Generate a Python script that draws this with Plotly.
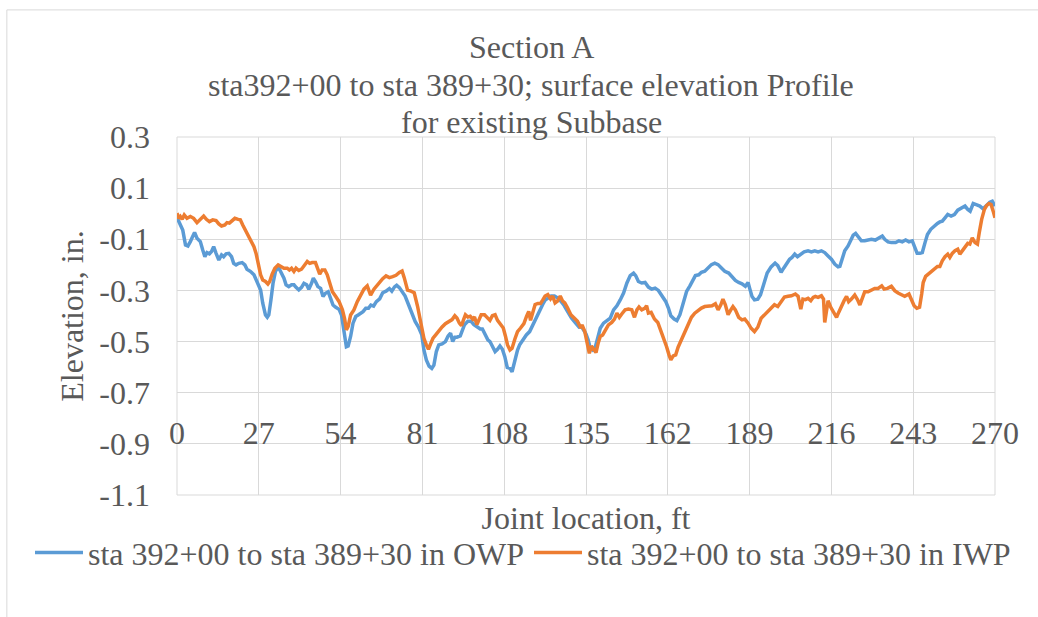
import plotly.graph_objects as go

TITLE_LINES = ["Section A",
               "sta392+00 to sta 389+30; surface elevation Profile",
               "for existing Subbase"]
X_TITLE = "Joint location, ft"
Y_TITLE = "Elevation, in."
NAME_OWP = "sta 392+00 to sta 389+30 in OWP"
NAME_IWP = "sta 392+00 to sta 389+30 in IWP"

X_TICKS = [0, 27, 54, 81, 108, 135, 162, 189, 216, 243, 270]
Y_TICKS = [0.3, 0.1, -0.1, -0.3, -0.5, -0.7, -0.9, -1.1]
Y_TICK_TEXT = ["0.3", "0.1", "-0.1", "-0.3", "-0.5", "-0.7", "-0.9", "-1.1"]

OWP_X = [
    0, 1.1, 1.9, 2.8, 3.6, 4.4, 5.2, 5.8, 6.6, 7.7,
    8.5, 9.2, 9.9, 10.7, 11.4, 12.1, 12.9, 13.8, 14.7, 15.4,
    16.2, 17.1, 18.0, 18.7, 19.5, 20.4, 21.5, 22.4, 23.1, 24.3,
    25.4, 26.5, 27.6, 28.3, 29.2, 29.8, 30.3, 31.0, 31.7, 32.5,
    33.4, 34.2, 35.3, 36.0, 36.9, 37.8, 38.6, 39.3, 40.2, 41.1,
    41.9, 42.8, 43.5, 44.4, 45.0, 45.7, 46.5, 47.4, 48.2, 49.0,
    49.9, 50.7, 51.5, 52.4, 53.5, 54.3, 55.1, 55.9, 56.5, 57.3,
    58.1, 59.0, 59.8, 60.6, 61.4, 62.3, 63.2, 64.0, 64.9, 65.8,
    66.9, 67.9, 69.0, 70.1, 70.9, 71.8, 72.5, 73.4, 74.3, 75.3,
    76.4, 77.5, 78.6, 79.7, 80.8, 81.5, 82.3, 83.2, 84.1, 84.8,
    85.6, 86.4, 87.5, 88.6, 89.5, 90.3, 91.0, 91.7, 92.4, 93.5,
    94.3, 94.9, 96.0, 97.1, 98.0, 99.0, 100.1, 100.8, 101.7, 102.6,
    103.3, 104.1, 105.0, 105.8, 106.6, 107.4, 108.2, 109.0, 109.9, 110.6,
    111.5, 112.4, 113.1, 114.2, 115.3, 116.4, 117.5, 118.6, 119.7, 120.7,
    121.5, 122.4, 123.5, 124.6, 125.6, 126.7, 127.8, 128.9, 130.2, 131.6,
    132.7, 133.5, 134.2, 135.0, 135.7, 136.4, 137.2, 138.1, 139.0, 139.7,
    140.8, 141.9, 143.0, 144.1, 145.2, 146.3, 147.4, 148.5, 149.6, 150.7,
    151.4, 152.3, 153.4, 154.5, 155.6, 156.7, 157.8, 158.9, 160.0, 161.3,
    162.2, 163.0, 164.1, 165.0, 166.0, 167.1, 168.2, 169.3, 170.4, 171.1,
    172.2, 173.1, 174.2, 175.3, 176.4, 177.5, 178.6, 179.7, 180.8, 182.1,
    183.2, 184.3, 185.4, 186.5, 187.6, 188.5, 189.1, 189.8, 190.6, 191.7,
    192.6, 193.7, 194.8, 196.1, 197.4, 198.3, 199.4, 200.3, 201.5, 202.2,
    203.0, 203.9, 204.8, 205.9, 207.0, 208.3, 209.4, 210.5, 211.6, 212.7,
    213.8, 214.9, 216.0, 217.1, 218.2, 218.8, 219.5, 220.4, 221.5, 222.4,
    223.2, 224.0, 224.8, 225.9, 227.0, 228.1, 229.2, 230.5, 231.6, 232.8,
    233.6, 234.7, 235.8, 237.2, 238.3, 239.4, 240.5, 241.6, 242.7, 243.6,
    244.3, 245.2, 246.0, 246.9, 247.7, 248.8, 249.9, 251.0, 251.8, 252.6,
    253.5, 254.4, 255.5, 256.6, 257.7, 258.8, 260.1, 261.0, 261.8, 262.8,
    263.9, 265.0, 266.1, 267.2, 268.3, 269.1, 270.0,
]
OWP_Y = [
    -0.015, -0.044, -0.064, -0.122, -0.126, -0.109, -0.083, -0.073, -0.096, -0.109,
    -0.142, -0.168, -0.152, -0.157, -0.148, -0.129, -0.155, -0.181, -0.161, -0.168,
    -0.157, -0.155, -0.168, -0.194, -0.200, -0.194, -0.191, -0.200, -0.217, -0.226,
    -0.239, -0.265, -0.298, -0.350, -0.396, -0.405, -0.396, -0.337, -0.272, -0.226,
    -0.207, -0.226, -0.252, -0.278, -0.285, -0.278, -0.278, -0.288, -0.298, -0.288,
    -0.272, -0.278, -0.295, -0.272, -0.252, -0.265, -0.285, -0.292, -0.324, -0.311,
    -0.305, -0.331, -0.357, -0.366, -0.374, -0.396, -0.461, -0.520, -0.517, -0.480,
    -0.428, -0.402, -0.396, -0.389, -0.383, -0.370, -0.370, -0.357, -0.361, -0.344,
    -0.333, -0.309, -0.303, -0.293, -0.303, -0.286, -0.280, -0.289, -0.303, -0.322,
    -0.355, -0.388, -0.421, -0.443, -0.474, -0.533, -0.572, -0.596, -0.605, -0.592,
    -0.539, -0.513, -0.509, -0.500, -0.478, -0.467, -0.500, -0.483, -0.483, -0.478,
    -0.454, -0.434, -0.421, -0.421, -0.434, -0.443, -0.451, -0.451, -0.470, -0.493,
    -0.500, -0.520, -0.539, -0.530, -0.517, -0.530, -0.559, -0.601, -0.605, -0.618,
    -0.572, -0.533, -0.513, -0.493, -0.474, -0.461, -0.434, -0.401, -0.375, -0.355,
    -0.338, -0.329, -0.322, -0.322, -0.329, -0.342, -0.359, -0.382, -0.408, -0.428,
    -0.443, -0.441, -0.454, -0.470, -0.493, -0.526, -0.533, -0.520, -0.480, -0.448,
    -0.428, -0.418, -0.408, -0.376, -0.360, -0.337, -0.310, -0.271, -0.242, -0.232,
    -0.242, -0.265, -0.271, -0.269, -0.287, -0.295, -0.291, -0.300, -0.321, -0.343,
    -0.369, -0.399, -0.412, -0.418, -0.395, -0.343, -0.304, -0.282, -0.261, -0.242,
    -0.239, -0.229, -0.225, -0.212, -0.199, -0.193, -0.199, -0.212, -0.225, -0.232,
    -0.245, -0.261, -0.269, -0.274, -0.284, -0.269, -0.295, -0.324, -0.337, -0.334,
    -0.317, -0.271, -0.232, -0.208, -0.193, -0.203, -0.229, -0.212, -0.188, -0.178,
    -0.171, -0.158, -0.168, -0.158, -0.149, -0.145, -0.149, -0.145, -0.149, -0.145,
    -0.152, -0.165, -0.178, -0.197, -0.208, -0.206, -0.178, -0.145, -0.126, -0.106,
    -0.084, -0.077, -0.090, -0.106, -0.106, -0.103, -0.100, -0.103, -0.097, -0.087,
    -0.100, -0.110, -0.113, -0.113, -0.106, -0.110, -0.103, -0.110, -0.106, -0.139,
    -0.155, -0.155, -0.152, -0.113, -0.081, -0.061, -0.048, -0.038, -0.032, -0.029,
    -0.016, -0.003, -0.009, -0.003, 0.014, 0.023, 0.030, 0.017, 0.010, 0.040,
    0.036, 0.030, 0.019, 0.032, 0.045, 0.049, 0.030,
]

IWP_X = [
    0, 0.6, 1.1, 1.7, 2.4, 3.3, 4.4, 5.5, 6.6, 7.7,
    8.8, 9.7, 10.7, 11.8, 12.9, 13.8, 14.7, 15.8, 16.5, 17.3,
    18.2, 19.1, 20.2, 20.9, 21.7, 22.6, 23.5, 24.5, 25.4, 26.1,
    26.8, 27.6, 28.3, 29.2, 30.0, 30.6, 31.4, 32.3, 33.4, 34.2,
    35.3, 36.4, 37.1, 37.8, 38.6, 39.3, 40.2, 41.1, 41.9, 43.0,
    43.8, 44.6, 45.7, 46.5, 47.1, 47.9, 48.8, 49.6, 50.4, 51.3,
    52.4, 53.5, 54.6, 55.3, 55.9, 56.5, 57.3, 58.4, 59.5, 60.6,
    61.7, 62.8, 63.9, 65.0, 66.1, 66.9, 67.9, 69.0, 70.1, 71.2,
    72.3, 73.4, 74.3, 75.0, 76.1, 77.2, 78.3, 79.4, 80.5, 81.5,
    82.3, 83.0, 83.7, 84.5, 85.4, 86.4, 87.5, 88.6, 89.7, 90.8,
    91.7, 92.4, 93.2, 93.9, 94.6, 95.2, 96.0, 96.8, 97.6, 98.2,
    99.0, 99.7, 100.4, 101.5, 102.6, 103.3, 104.1, 105.0, 105.8, 106.9,
    107.7, 108.4, 109.1, 109.9, 110.6, 111.5, 112.4, 113.4, 114.5, 115.4,
    116.1, 116.7, 117.5, 118.2, 119.1, 120.0, 120.7, 121.5, 122.4, 123.3,
    124.0, 124.8, 125.6, 126.5, 127.3, 128.0, 128.9, 130.0, 131.1, 132.2,
    133.3, 133.7, 134.6, 135.3, 136.1, 136.8, 137.5, 138.3, 139.0, 139.7,
    140.5, 141.4, 142.4, 143.5, 144.4, 145.2, 146.0, 146.8, 147.9, 149.0,
    150.1, 151.0, 151.8, 152.5, 153.4, 154.5, 155.0, 155.6, 156.5, 157.6,
    158.7, 159.8, 160.9, 161.6, 162.4, 163.0, 163.8, 164.6, 165.4, 166.5,
    167.6, 168.7, 169.8, 170.9, 172.0, 173.1, 174.2, 175.5, 176.6, 177.7,
    178.6, 179.5, 180.2, 181.0, 181.9, 182.8, 183.5, 184.3, 185.4, 186.5,
    187.4, 188.5, 189.5, 190.6, 191.7, 192.8, 193.9, 195.0, 196.1, 197.2,
    198.3, 199.4, 200.5, 201.7, 202.8, 204.1, 205.0, 205.9, 206.6, 207.4,
    208.3, 209.2, 210.0, 210.7, 211.6, 212.7, 213.4, 213.8, 214.4, 214.9,
    215.8, 216.9, 217.7, 218.4, 219.3, 220.2, 221.0, 221.7, 222.6, 223.7,
    224.6, 225.4, 226.1, 227.0, 228.1, 229.2, 230.3, 231.4, 232.6, 233.4,
    234.5, 235.8, 236.9, 238.0, 239.2, 240.2, 241.6, 242.4, 243.3, 244.2,
    245.1, 245.8, 246.3, 247.1, 248.0, 249.1, 250.2, 251.0, 251.8, 252.6,
    253.5, 254.4, 255.1, 255.9, 256.8, 257.7, 258.4, 259.2, 260.1, 261.0,
    261.7, 262.5, 263.4, 264.2, 264.8, 265.6, 266.5, 267.2, 268.0, 268.7,
    269.4, 270.0,
]
IWP_Y = [
    0.002, -0.018, -0.011, -0.022, -0.005, -0.018, -0.011, -0.018, -0.035, -0.022,
    -0.009, -0.022, -0.031, -0.024, -0.027, -0.040, -0.048, -0.044, -0.035, -0.037,
    -0.027, -0.018, -0.022, -0.024, -0.044, -0.064, -0.087, -0.109, -0.129, -0.155,
    -0.194, -0.239, -0.259, -0.265, -0.275, -0.265, -0.236, -0.213, -0.200, -0.204,
    -0.213, -0.213, -0.220, -0.213, -0.226, -0.213, -0.222, -0.217, -0.204, -0.187,
    -0.194, -0.191, -0.191, -0.213, -0.236, -0.220, -0.220, -0.239, -0.272, -0.305,
    -0.324, -0.344, -0.376, -0.409, -0.454, -0.441, -0.396, -0.376, -0.344, -0.318,
    -0.295, -0.282, -0.318, -0.295, -0.278, -0.270, -0.254, -0.243, -0.250, -0.246,
    -0.241, -0.230, -0.224, -0.250, -0.299, -0.303, -0.309, -0.362, -0.428, -0.487,
    -0.513, -0.530, -0.509, -0.487, -0.474, -0.457, -0.443, -0.430, -0.421, -0.414,
    -0.399, -0.408, -0.428, -0.438, -0.414, -0.395, -0.404, -0.401, -0.412, -0.404,
    -0.434, -0.414, -0.395, -0.395, -0.408, -0.417, -0.399, -0.395, -0.417, -0.438,
    -0.447, -0.478, -0.513, -0.533, -0.526, -0.491, -0.461, -0.447, -0.430, -0.401,
    -0.382, -0.417, -0.382, -0.355, -0.351, -0.351, -0.338, -0.322, -0.316, -0.333,
    -0.322, -0.349, -0.342, -0.322, -0.342, -0.349, -0.368, -0.395, -0.408, -0.421,
    -0.447, -0.435, -0.461, -0.507, -0.546, -0.517, -0.530, -0.543, -0.507, -0.480,
    -0.474, -0.452, -0.435, -0.425, -0.412, -0.389, -0.405, -0.392, -0.376, -0.373,
    -0.376, -0.405, -0.376, -0.365, -0.376, -0.369, -0.360, -0.389, -0.386, -0.412,
    -0.425, -0.461, -0.493, -0.520, -0.552, -0.572, -0.556, -0.552, -0.522, -0.493,
    -0.457, -0.428, -0.405, -0.389, -0.378, -0.369, -0.363, -0.360, -0.360, -0.352,
    -0.376, -0.356, -0.334, -0.356, -0.395, -0.376, -0.363, -0.376, -0.405, -0.415,
    -0.412, -0.428, -0.448, -0.461, -0.444, -0.409, -0.395, -0.382, -0.369, -0.356,
    -0.363, -0.347, -0.326, -0.323, -0.321, -0.314, -0.323, -0.373, -0.334, -0.336,
    -0.331, -0.340, -0.327, -0.323, -0.327, -0.321, -0.334, -0.425, -0.386, -0.340,
    -0.366, -0.392, -0.405, -0.386, -0.360, -0.340, -0.323, -0.344, -0.334, -0.318,
    -0.336, -0.357, -0.334, -0.305, -0.305, -0.297, -0.292, -0.292, -0.282, -0.295,
    -0.292, -0.284, -0.301, -0.310, -0.318, -0.323, -0.314, -0.334, -0.360, -0.370,
    -0.366, -0.314, -0.269, -0.245, -0.236, -0.227, -0.217, -0.206, -0.206, -0.184,
    -0.168, -0.158, -0.171, -0.155, -0.145, -0.139, -0.158, -0.145, -0.129, -0.116,
    -0.119, -0.094, -0.113, -0.119, -0.074, -0.022, 0.017, 0.032, 0.040, 0.036,
    0.010, -0.016,
]

FONT = "Liberation Serif, Times New Roman, serif"
TEXT = "#595959"
GRID = "#D9D9D9"
BLUE = "#5B9BD5"
ORANGE = "#ED7D31"

fig = go.Figure()
fig.add_trace(go.Scatter(x=OWP_X, y=OWP_Y, mode="lines", name=NAME_OWP,
                         line=dict(color=BLUE, width=3.5)))
fig.add_trace(go.Scatter(x=IWP_X, y=IWP_Y, mode="lines", name=NAME_IWP,
                         line=dict(color=ORANGE, width=3.5)))

title_y = [1.251, 1.145, 1.042]
annotations = []
for line, yy in zip(TITLE_LINES, title_y):
    annotations.append(dict(text=line, xref="paper", yref="paper", x=0.433, y=yy,
                            xanchor="center", yanchor="middle", showarrow=False,
                            font=dict(family=FONT, size=32, color=TEXT)))

fig.update_layout(
    width=1038, height=617,
    margin=dict(l=177, r=43, t=137, b=122),
    paper_bgcolor="white", plot_bgcolor="white",
    font=dict(family=FONT, size=32, color=TEXT),
    annotations=annotations,
    showlegend=True,
    legend=dict(orientation="h", x=-0.1797, y=-0.161, xanchor="left", yanchor="middle",
                font=dict(family=FONT, size=32, color=TEXT),
                itemwidth=48,
                entrywidth=436, entrywidthmode="pixels",
                bgcolor="rgba(0,0,0,0)"),
    shapes=[
        dict(type="rect", xref="paper", yref="paper", x0=0, x1=1, y0=0, y1=1,
             line=dict(color=GRID, width=1), layer="below"),
        dict(type="rect", xref="paper", yref="paper", x0=-0.208, x1=1.5, y0=-0.5, y1=1.355,
             line=dict(color=GRID, width=1), layer="below"),
    ],
)
fig.update_xaxes(range=[0, 270], tickvals=X_TICKS, ticktext=[str(t) for t in X_TICKS],
                 showgrid=True, gridcolor=GRID, gridwidth=1, zeroline=False,
                 showline=False, ticks="", anchor="free", position=0.236,
                 title=dict(text=X_TITLE, standoff=57, font=dict(family=FONT, size=32, color=TEXT)),
                 tickfont=dict(family=FONT, size=32, color=TEXT))
fig.update_yaxes(range=[-1.1, 0.3], tickvals=Y_TICKS, ticktext=Y_TICK_TEXT,
                 showgrid=True, gridcolor=GRID, gridwidth=1, zeroline=False,
                 showline=False, ticks="", ticklabelstandoff=26,
                 title=dict(text=Y_TITLE, standoff=6, font=dict(family=FONT, size=32, color=TEXT)),
                 tickfont=dict(family=FONT, size=32, color=TEXT))

fig.write_html("out.html")
